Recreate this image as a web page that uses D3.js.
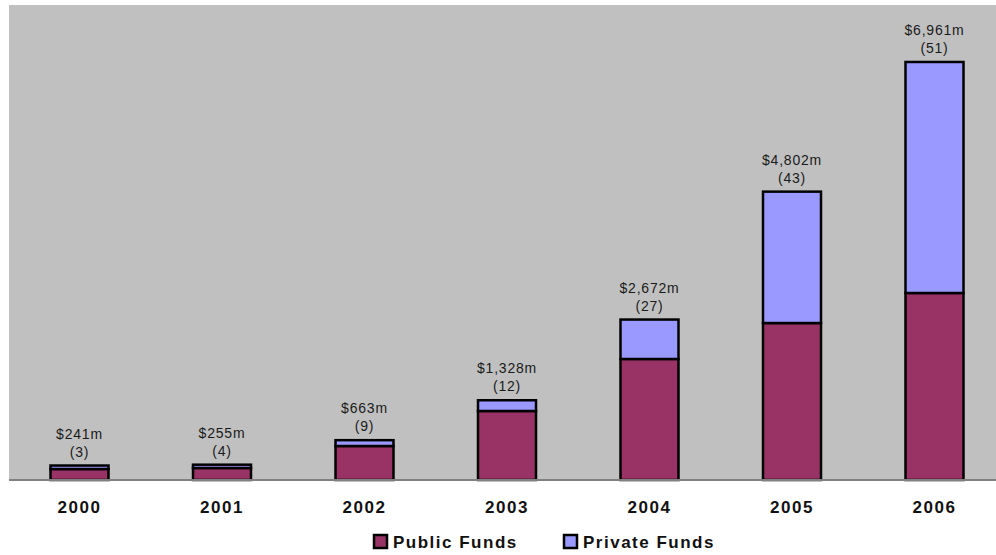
<!DOCTYPE html>
<html><head><meta charset="utf-8">
<script src="https://cdn.jsdelivr.net/npm/d3@7"></script>
<style>body{margin:0;background:#fff}svg{display:block}</style>
</head><body>
<svg id="c" width="996" height="555"></svg>
<script>
const years = ["2000","2001","2002","2003","2004","2005","2006"];
const publicFunds = [183, 200, 566, 1149, 2015, 2614, 3114];
const privateFunds = [58, 55, 97, 179, 657, 2188, 3847];
const totalLabels = ["$241m","$255m","$663m","$1,328m","$2,672m","$4,802m","$6,961m"];
const dealCounts = ["(3)","(4)","(9)","(12)","(27)","(43)","(51)"];
const seriesNames = ["Public Funds","Private Funds"];
const colors = ["#993366","#9999FF"];

const svg = d3.select("#c");
const font = "'Liberation Sans', Arial, sans-serif";

const plot = {x0:9, x1:996, y0:5, y1:480};
svg.append("rect").attr("x",plot.x0).attr("y",plot.y0)
  .attr("width",plot.x1-plot.x0).attr("height",plot.y1-plot.y0).attr("fill","#C0C0C0");

const x = d3.scaleBand().domain(years).range([8.25,1005.75]).paddingInner(0.593).paddingOuter(0.2965);
const y = d3.scaleLinear().domain([0,7910]).range([plot.y1, plot.y0]);

const stackData = years.map((yr,i)=>({year:yr, pub:publicFunds[i], priv:privateFunds[i]}));
const stack = d3.stack().keys(["pub","priv"])(stackData);

const g = svg.append("g");
stack.forEach((s,si)=>{
  g.selectAll(null).data(s).enter().append("rect")
    .attr("x",d=>x(d.data.year))
    .attr("y",d=>y(d[1]))
    .attr("width",x.bandwidth())
    .attr("height",d=>y(d[0])-y(d[1]))
    .attr("fill",colors[si])
    .attr("stroke","#000").attr("stroke-width",2.5);
});

// baseline
svg.append("line").attr("x1",plot.x0).attr("x2",plot.x1).attr("y1",plot.y1).attr("y2",plot.y1)
  .attr("stroke","#808080").attr("stroke-width",2);

// data labels
years.forEach((yr,i)=>{
  const cx = x(yr)+x.bandwidth()/2;
  const top = y(publicFunds[i]+privateFunds[i]);
  svg.append("text").attr("x",cx).attr("y",top-27).attr("text-anchor","middle")
    .attr("font-family",font).attr("font-size",14).attr("letter-spacing","0.8px")
    .attr("fill","#1a1a1a").text(totalLabels[i]);
  svg.append("text").attr("x",cx).attr("y",top-9).attr("text-anchor","middle")
    .attr("font-family",font).attr("font-size",14).attr("letter-spacing","0.8px")
    .attr("fill","#1a1a1a").text(dealCounts[i]);
});

// x axis labels
const xAxis = d3.axisBottom(x).tickSize(0).tickPadding(0);
const ax = svg.append("g").attr("transform",`translate(0,${plot.y1})`).call(xAxis);
ax.select(".domain").remove();
ax.selectAll("text").attr("y",33).attr("dy",0)
  .attr("font-family",font).attr("font-weight","bold").attr("font-size",17)
  .attr("letter-spacing","1.5px").attr("fill","#111");

// legend
const legendX = [374, 564];
seriesNames.forEach((n,i)=>{
  svg.append("rect").attr("x",legendX[i]).attr("y",535).attr("width",13).attr("height",13)
    .attr("fill",colors[i]).attr("stroke","#000").attr("stroke-width",2.5);
  svg.append("text").attr("x",legendX[i]+19).attr("y",548)
    .attr("font-family",font).attr("font-weight","bold").attr("font-size",17)
    .attr("letter-spacing","1.5px").attr("fill","#111").text(n);
});
</script>
</body></html>
